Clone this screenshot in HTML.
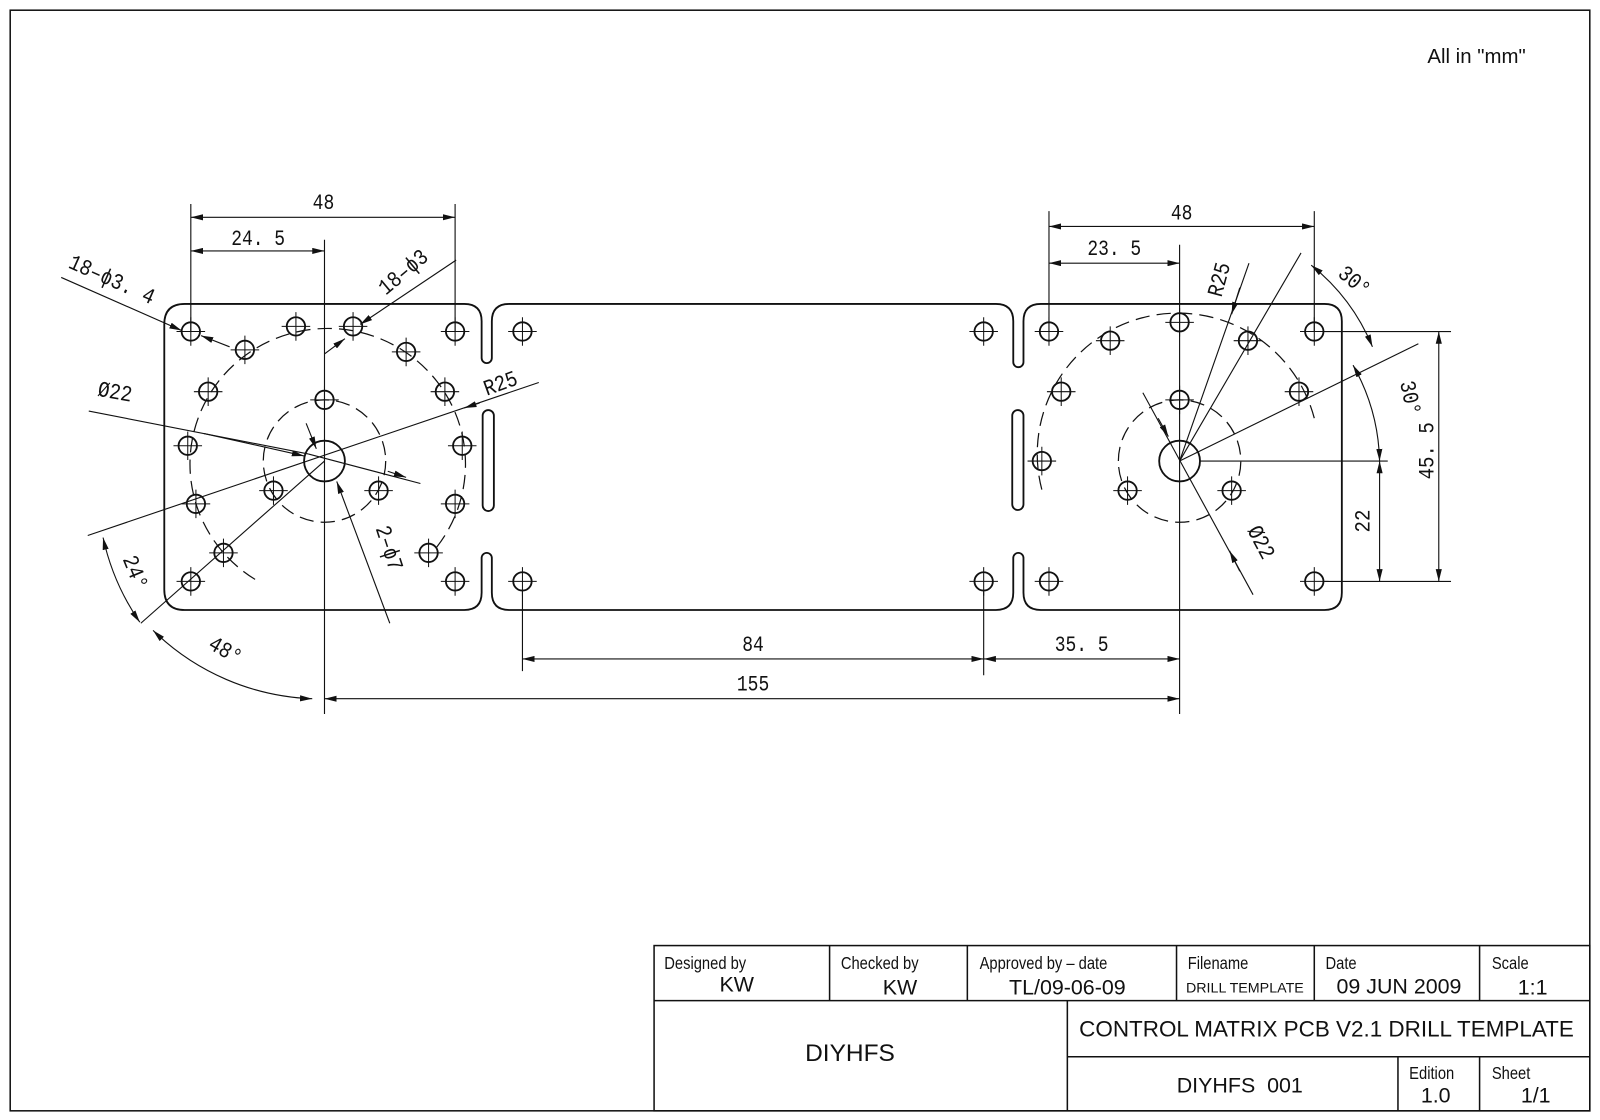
<!DOCTYPE html>
<html><head><meta charset="utf-8"><style>
html,body{margin:0;padding:0;background:#fff;width:1600px;height:1120px;overflow:hidden}
svg{display:block}
.d{font-family:"Liberation Mono","DejaVu Sans Mono",monospace;font-size:22px;fill:#111}
.t{font-family:"Liberation Sans",sans-serif;fill:#111}
.s{font-family:"Liberation Sans Narrow","Liberation Sans",sans-serif;fill:#111}
</style></head><body>
<svg width="1600" height="1120" viewBox="0 0 1568 1098" preserveAspectRatio="none" xmlns="http://www.w3.org/2000/svg">
<defs>
<marker id="a" viewBox="0 0 12 6" refX="12" refY="3" markerWidth="12" markerHeight="6" orient="auto-start-reverse" markerUnits="userSpaceOnUse"><path d="M0,0 L12,3 L0,6 Z" fill="#111"/></marker>
<g id="h"><circle r="9" fill="none" stroke="#111" stroke-width="1.8"/><path d="M-14,0H14M0,-14V14" stroke="#111" stroke-width="1"/></g>
</defs>
<rect x="10" y="10" width="1548" height="1079" fill="none" stroke="#111" stroke-width="1.5"/>
<text x="1447" y="62" class="t" font-size="20" text-anchor="middle">All in "mm"</text>

<!-- outline -->
<g fill="none" stroke="#111" stroke-width="1.8">
<path d="M181,298 H455 Q472,298 472,315 V351 A5,5 0 0 0 482,351 V315 Q482,298 499,298 H976 Q993,298 993,315 V355 A5,5 0 0 0 1003,355 V315 Q1003,298 1020,298 H1298 Q1315,298 1315,315 V581 Q1315,598 1298,598 H1020 Q1003,598 1003,581 V547 A5,5 0 0 0 993,547 V581 Q993,598 976,598 H499 Q482,598 482,581 V547 A5,5 0 0 0 472,547 V581 Q472,598 455,598 H181 Q161,598 161,578 V318 Q161,298 181,298 Z"/>
<rect x="473" y="402" width="11" height="99" rx="5.5"/>
<rect x="992" y="402" width="11" height="98" rx="5.5"/>
<circle cx="318" cy="452" r="20"/>
<circle cx="1156" cy="452" r="20"/>
</g>
<g fill="none" stroke="#111" stroke-width="1.2" stroke-dasharray="14,7">
<circle cx="318" cy="452" r="60"/>
<path d="M250,568 A135,133 0 1 1 425,540"/>
<path d="M1096,452 A60,60 0 1 1 1156,512 A60,60 0 0 1 1096,452"/>
<path d="M1021,480 A135,135 0 1 1 1288,410"/>
</g>

<!-- holes -->
<g>
<use href="#h" x="187" y="325"/><use href="#h" x="446" y="325"/><use href="#h" x="187" y="570"/><use href="#h" x="446" y="570"/>
<use href="#h" x="512" y="325"/><use href="#h" x="964" y="325"/><use href="#h" x="512" y="570"/><use href="#h" x="964" y="570"/>
<use href="#h" x="1028" y="325"/><use href="#h" x="1288" y="325"/><use href="#h" x="1028" y="570"/><use href="#h" x="1288" y="570"/>
<use href="#h" x="290" y="320"/><use href="#h" x="346" y="320"/><use href="#h" x="240" y="343"/><use href="#h" x="398" y="345"/>
<use href="#h" x="204" y="384"/><use href="#h" x="436" y="384"/><use href="#h" x="184" y="437"/><use href="#h" x="453" y="437"/>
<use href="#h" x="192" y="494"/><use href="#h" x="446" y="494"/><use href="#h" x="219" y="542"/><use href="#h" x="420" y="542"/>
<use href="#h" x="318" y="392"/><use href="#h" x="268" y="481"/><use href="#h" x="371" y="481"/>
<use href="#h" x="1156" y="392"/><use href="#h" x="1105" y="481"/><use href="#h" x="1207" y="481"/><use href="#h" x="1156" y="316"/>
<use href="#h" x="1088" y="334"/><use href="#h" x="1223" y="334"/><use href="#h" x="1040" y="384"/><use href="#h" x="1273" y="384"/><use href="#h" x="1021" y="452"/>
</g>

<!-- dimension lines -->
<g stroke="#111" stroke-width="1.1" fill="none">
<path d="M187,200V325M446,200V325M318,235V700M1156,240V700M1028,207V325M1288,207V325"/>
<path d="M512,580V658M964,580V662"/>
<path d="M1298,325H1422M1298,570H1422M1176,452H1360"/>
<line x1="187" y1="213" x2="446" y2="213" marker-start="url(#a)" marker-end="url(#a)"/>
<line x1="187" y1="246" x2="318" y2="246" marker-start="url(#a)" marker-end="url(#a)"/>
<line x1="1028" y1="222" x2="1288" y2="222" marker-start="url(#a)" marker-end="url(#a)"/>
<line x1="1028" y1="258" x2="1156" y2="258" marker-start="url(#a)" marker-end="url(#a)"/>
<line x1="512" y1="646" x2="964" y2="646" marker-start="url(#a)" marker-end="url(#a)"/>
<line x1="964" y1="646" x2="1156" y2="646" marker-start="url(#a)" marker-end="url(#a)"/>
<line x1="318" y1="685" x2="1156" y2="685" marker-start="url(#a)" marker-end="url(#a)"/>
<line x1="1410" y1="325" x2="1410" y2="570" marker-start="url(#a)" marker-end="url(#a)"/>
<line x1="1352" y1="452" x2="1352" y2="570" marker-start="url(#a)" marker-end="url(#a)"/>
<!-- left leaders -->
<line x1="60" y1="272" x2="178" y2="324" marker-end="url(#a)"/>
<line x1="225" y1="340" x2="197" y2="329" marker-end="url(#a)"/>
<line x1="447" y1="255" x2="353" y2="318" marker-end="url(#a)"/>
<line x1="318" y1="347" x2="338" y2="332" marker-end="url(#a)"/>
<line x1="87" y1="403" x2="302" y2="445"/>
<line x1="200" y1="425" x2="298" y2="447" marker-end="url(#a)"/>
<line x1="302" y1="445" x2="412" y2="474"/>
<line x1="380" y1="462" x2="398" y2="468" marker-end="url(#a)"/>
<line x1="86" y1="525" x2="528" y2="375"/>
<line x1="470" y1="395" x2="455" y2="400" marker-end="url(#a)"/>
<line x1="300" y1="415" x2="310" y2="440" marker-end="url(#a)"/>
<line x1="382" y1="611" x2="330" y2="472" marker-end="url(#a)"/>
<line x1="318" y1="452" x2="138" y2="611"/>
<path d="M101,527 A235,235 0 0 0 137,610" marker-start="url(#a)" marker-end="url(#a)"/>
<path d="M150,618 A235,235 0 0 0 306,685" marker-start="url(#a)" marker-end="url(#a)"/>
<!-- right leaders -->
<line x1="1156" y1="452" x2="1224" y2="258"/>
<line x1="1215" y1="282" x2="1207" y2="308" marker-end="url(#a)"/>
<line x1="1156" y1="452" x2="1275" y2="248"/>
<line x1="1156" y1="452" x2="1390" y2="337"/>
<line x1="1120" y1="385" x2="1228" y2="583"/>
<line x1="1135" y1="410" x2="1145" y2="428" marker-end="url(#a)"/>
<line x1="1215" y1="560" x2="1205" y2="540" marker-end="url(#a)"/>
<path d="M1285,260 A200,200 0 0 1 1345,340" marker-start="url(#a)" marker-end="url(#a)"/>
<path d="M1326,358 A200,200 0 0 1 1352,452" marker-start="url(#a)" marker-end="url(#a)"/>
</g>

<!-- dimension text -->
<g class="d">
<text x="317" y="205" text-anchor="middle" transform="translate(317,0) scale(0.8,1) translate(-317,0)">48</text>
<text x="253" y="240" text-anchor="middle" transform="translate(253,0) scale(0.8,1) translate(-253,0)">24. 5</text>
<text x="1158" y="215" text-anchor="middle" transform="translate(1158,0) scale(0.8,1) translate(-1158,0)">48</text>
<text x="1092" y="250" text-anchor="middle" transform="translate(1092,0) scale(0.8,1) translate(-1092,0)">23. 5</text>
<text x="738" y="638" text-anchor="middle" transform="translate(738,0) scale(0.8,1) translate(-738,0)">84</text>
<text x="1060" y="638" text-anchor="middle" transform="translate(1060,0) scale(0.8,1) translate(-1060,0)">35. 5</text>
<text x="738" y="677" text-anchor="middle" transform="translate(738,0) scale(0.8,1) translate(-738,0)">155</text>
<text transform="translate(66,262) rotate(24) scale(0.85,1)">18–ϕ3. 4</text>
<text transform="translate(378,290) rotate(-40) scale(0.85,1)">18–ϕ3</text>
<text transform="translate(95,388) rotate(10) scale(0.85,1)">Ø22</text>
<text transform="translate(477,388) rotate(-20) scale(0.85,1)">R25</text>
<text transform="translate(368,518) rotate(72) scale(0.85,1)">2–ϕ7</text>
<text transform="translate(120,548) rotate(68) scale(0.85,1)">24°</text>
<text transform="translate(203,635) rotate(30) scale(0.85,1)">48°</text>
<text transform="translate(1197,292) rotate(-75) scale(0.85,1)">R25</text>
<text transform="translate(1310,270) rotate(40) scale(0.85,1)">30°</text>
<text transform="translate(1372,375) rotate(78) scale(0.85,1)">30°</text>
<text transform="translate(1405,470) rotate(-90) scale(0.85,1)">45. 5</text>
<text transform="translate(1342,522) rotate(-90) scale(0.85,1)">22</text>
<text transform="translate(1222,520) rotate(62) scale(0.85,1)">Ø22</text>
</g>

<!-- title block -->
<g stroke="#111" stroke-width="1.5" fill="none">
<rect x="641" y="927" width="917" height="162"/>
<path d="M641,981H1558M813,927V981M948,927V981M1153,927V981M1288,927V981M1450,927V981M1046,981V1089M1046,1036H1558M1370,1036V1089M1450,1036V1089"/>
</g>
<g class="s" font-size="17">
<text x="651" y="950" transform="translate(651,0) scale(0.85,1) translate(-651,0)">Designed by</text>
<text x="824" y="950" transform="translate(824,0) scale(0.85,1) translate(-824,0)">Checked by</text>
<text x="960" y="950" transform="translate(960,0) scale(0.85,1) translate(-960,0)">Approved by – date</text>
<text x="1164" y="950" transform="translate(1164,0) scale(0.85,1) translate(-1164,0)">Filename</text>
<text x="1299" y="950" transform="translate(1299,0) scale(0.85,1) translate(-1299,0)">Date</text>
<text x="1462" y="950" transform="translate(1462,0) scale(0.85,1) translate(-1462,0)">Scale</text>
<text x="1381" y="1058" transform="translate(1381,0) scale(0.85,1) translate(-1381,0)">Edition</text>
<text x="1462" y="1058" transform="translate(1462,0) scale(0.85,1) translate(-1462,0)">Sheet</text>
</g>
<g class="t" font-size="21" text-anchor="middle">
<text x="722" y="972">KW</text>
<text x="882" y="975">KW</text>
<text x="1046" y="975">TL/09-06-09</text>
<text x="1220" y="973" font-size="14">DRILL TEMPLATE</text>
<text x="1371" y="974">09 JUN 2009</text>
<text x="1502" y="975">1:1</text>
<text x="833" y="1040" font-size="24">DIYHFS</text>
<text x="1300" y="1016" font-size="22">CONTROL MATRIX PCB V2.1 DRILL TEMPLATE</text>
<text x="1215" y="1071">DIYHFS&#160; 001</text>
<text x="1407" y="1081">1.0</text>
<text x="1505" y="1081">1/1</text>
</g>
</svg>
</body></html>
